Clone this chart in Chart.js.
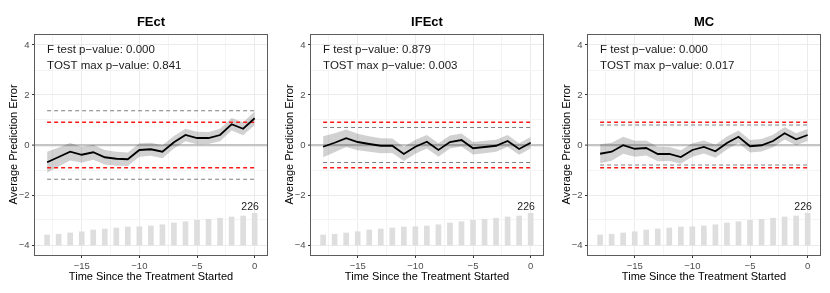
<!DOCTYPE html>
<html>
<head>
<meta charset="utf-8">
<script src="https://cdn.jsdelivr.net/npm/chart.js@4.4.1/dist/chart.umd.min.js"></script>
<style>
  body { margin: 0; background: #fff; }
  #wrap { position: relative; width: 830px; height: 293px; }
  canvas { position: absolute; top: 0; }
</style>
</head>
<body>
<div id="wrap">
  <canvas id="p1" width="277" height="293" style="left:0px"></canvas>
  <canvas id="p2" width="277" height="293" style="left:276px"></canvas>
  <canvas id="p3" width="277" height="293" style="left:553px"></canvas>
</div>
<script>
// time since treatment started
const periods = [-18, -17, -16, -15, -14, -13, -12, -11, -10, -9, -8, -7, -6, -5, -4, -3, -2, -1, 0];
const xTicks = [-17.5, -15, -12.5, -10, -7.5, -5, -2.5, 0];
const yTicks = [-4, -3, -2, -1, 0, 1, 2, 3, 4];

// bars for number of treated units (drawn on the error axis, base at -4)
const barBase = -4;
const barTop = [-3.6, -3.57, -3.52, -3.47, -3.4, -3.36, -3.32, -3.28, -3.27, -3.24,
                -3.19, -3.12, -3.07, -3.01, -2.97, -2.93, -2.88, -2.84, -2.73];
const nLast = '226';

const titles = ['FEct', 'IFEct', 'MC'];
const fTestP = ['0.000', '0.879', '0.000'];
const tostP = ['0.841', '0.003', '0.017'];
const eqBound = [0.91, 0.91, 0.91];   // red dashed
const minRange = [1.37, 0.70, 0.80];  // grey dashed

const fectEst = [-0.69, -0.48, -0.27, -0.39, -0.29, -0.49, -0.55, -0.57, -0.2, -0.17, -0.27, 0.11, 0.4, 0.28, 0.28, 0.4, 0.83, 0.65, 1.07];
const fectLo = [-1.11, -0.86, -0.62, -0.71, -0.59, -0.78, -0.83, -0.84, -0.47, -0.43, -0.53, -0.14, 0.15, 0.03, 0.04, 0.15, 0.58, 0.39, 0.80];
const fectHi = [-0.27, -0.10, 0.08, -0.07, 0.01, -0.20, -0.27, -0.30, 0.07, 0.09, -0.01, 0.36, 0.65, 0.53, 0.52, 0.65, 1.08, 0.91, 1.34];

const ifectEst = [-0.07, 0.09, 0.27, 0.12, 0.04, -0.03, -0.03, -0.36, -0.07, 0.13, -0.2, 0.12, 0.2, -0.13, -0.08, -0.03, 0.16, -0.16, 0.09];
const ifectLo = [-0.49, -0.29, -0.08, -0.21, -0.27, -0.33, -0.32, -0.64, -0.35, -0.14, -0.47, -0.14, -0.06, -0.38, -0.33, -0.27, -0.08, -0.39, -0.14];
const ifectHi = [0.35, 0.47, 0.62, 0.45, 0.35, 0.27, 0.26, -0.08, 0.21, 0.40, 0.07, 0.38, 0.46, 0.12, 0.17, 0.21, 0.40, 0.07, 0.32];

const mcEst = [-0.35, -0.27, -0.01, -0.15, -0.12, -0.36, -0.36, -0.48, -0.2, -0.08, -0.25, 0.08, 0.33, -0.05, -0.01, 0.16, 0.47, 0.23, 0.4];
const mcLo = [-0.73, -0.63, -0.35, -0.47, -0.42, -0.65, -0.64, -0.75, -0.47, -0.34, -0.51, -0.18, 0.08, -0.30, -0.26, -0.09, 0.22, -0.01, 0.16];
const mcHi = [0.03, 0.09, 0.33, 0.17, 0.18, -0.07, -0.08, -0.21, 0.07, 0.18, 0.01, 0.34, 0.58, 0.20, 0.24, 0.41, 0.72, 0.47, 0.64];

Chart.defaults.font.family = '"Liberation Sans", Arial, sans-serif';
Chart.defaults.animation = false;

function fmt(v) {
    return v < 0 ? '\u2212' + Math.abs(v) : String(v);
}

function toXY(vals) {
    return vals.map((v, i) => ({x: periods[i], y: v}));
}

function hline(b) {
    let a = periods[0];
    let z = periods[periods.length - 1];
    return [{x: a, y: b}, {x: z, y: b}, {x: z, y: null}, {x: a, y: -b}, {x: z, y: -b}];
}

// title, p-value text, count label and panel border
const panelText = {
    id: 'panelText',
    afterDraw(chart, args, opts) {
        const c = chart.ctx;
        const a = chart.chartArea;
        const sx = chart.scales.x;
        const sy = chart.scales.y;
        c.save();
        c.strokeStyle = '#5c5c5c';
        c.lineWidth = 1;
        c.strokeRect(a.left - 0.5, a.top + 0.5, a.right - a.left + 1, a.bottom - a.top);

        c.fillStyle = '#000';
        c.font = 'bold 13px "Liberation Sans", Arial, sans-serif';
        c.textAlign = 'center';
        c.textBaseline = 'middle';
        c.fillText(opts.title, (a.left + a.right) / 2, 22);

        c.fillStyle = '#1a1a1a';
        c.font = '11.5px "Liberation Sans", Arial, sans-serif';
        c.textAlign = 'left';
        c.fillText('F test p\u2212value: ' + opts.fp, sx.getPixelForValue(periods[0]), sy.getPixelForValue(3.8));
        c.fillText('TOST max p\u2212value: ' + opts.tp, sx.getPixelForValue(periods[0]), sy.getPixelForValue(3.18));

        c.textAlign = 'center';
        c.font = '10.5px "Liberation Sans", Arial, sans-serif';
        c.fillText(nLast, sx.getPixelForValue(-0.4), sy.getPixelForValue(-2.47));
        c.restore();
    }
};

function makePanel(id, k, est, lo, hi) {
    const ctx = document.getElementById(id).getContext('2d');
    return new Chart(ctx, {
        type: 'line',
        data: {
            datasets: [
                {
                    type: 'line',
                    data: toXY(est),
                    borderColor: '#000',
                    borderWidth: 1.8,
                    pointRadius: 0,
                    order: 0
                },
                {
                    type: 'line',
                    data: hline(eqBound[k]),
                    borderColor: '#ff1a1a',
                    borderWidth: 1.4,
                    borderDash: [4, 3],
                    pointRadius: 0,
                    spanGaps: false,
                    order: 1
                },
                {
                    type: 'line',
                    data: hline(minRange[k]),
                    borderColor: '#808080',
                    borderWidth: 1.1,
                    borderDash: [4, 3],
                    pointRadius: 0,
                    spanGaps: false,
                    order: 2
                },
                {
                    type: 'line',
                    data: toXY(hi),
                    borderWidth: 0,
                    pointRadius: 0,
                    fill: '+1',
                    backgroundColor: 'rgba(0,0,0,0.18)',
                    order: 3
                },
                {
                    type: 'line',
                    data: toXY(lo),
                    borderWidth: 0,
                    pointRadius: 0,
                    fill: false,
                    order: 4
                },
                {
                    type: 'bar',
                    data: barTop.map((v, i) => ({x: periods[i], y: [barBase, v]})),
                    backgroundColor: '#dedede',
                    barThickness: 5,
                    order: 5
                }
            ]
        },
        options: {
            responsive: false,
            layout: {padding: {top: 34, right: 10, bottom: 0, left: 0}},
            plugins: {
                legend: {display: false},
                tooltip: {enabled: false},
                panelText: {title: titles[k], fp: fTestP[k], tp: tostP[k]}
            },
            scales: {
                x: {
                    type: 'linear',
                    min: -19.05,
                    max: 1.07,
                    offset: false,
                    afterBuildTicks: s => { s.ticks = xTicks.map(v => ({value: v})); },
                    afterFit: s => { s.height = 38; },
                    ticks: {
                        autoSkip: false,
                        maxRotation: 0,
                        padding: 3,
                        color: '#4d4d4d',
                        font: {size: 9.5},
                        callback: v => (v % 5 === 0 ? fmt(v) : '')
                    },
                    grid: {
                        offset: false,
                        tickLength: 3,
                        color: c => (c.tick && c.tick.value % 5 === 0 ? '#ebebeb' : '#f4f4f4'),
                        tickColor: c => (c.tick && c.tick.value % 5 === 0 ? '#333' : 'rgba(0,0,0,0)')
                    },
                    border: {display: false},
                    title: {
                        display: true,
                        text: 'Time Since the Treatment Started',
                        color: '#000',
                        font: {size: 11},
                        padding: {top: 0, bottom: 9}
                    }
                },
                y: {
                    type: 'linear',
                    min: -4.4,
                    max: 4.44,
                    afterBuildTicks: s => { s.ticks = yTicks.map(v => ({value: v})); },
                    afterFit: s => { s.width = 35; },
                    ticks: {
                        autoSkip: false,
                        padding: 2.5,
                        color: '#4d4d4d',
                        font: {size: 9.5},
                        callback: v => (v % 2 === 0 ? fmt(v) : '')
                    },
                    grid: {
                        tickLength: 3,
                        color: c => {
                            if (!c.tick) return '#ebebeb';
                            if (c.tick.value === 0) return '#c4c4c4';
                            return c.tick.value % 2 === 0 ? '#ebebeb' : '#f4f4f4';
                        },
                        lineWidth: c => (c.tick && c.tick.value === 0 ? 2.2 : 1),
                        tickColor: c => (c.tick && c.tick.value % 2 === 0 ? '#333' : 'rgba(0,0,0,0)'),
                        tickWidth: 1
                    },
                    border: {display: false},
                    title: {
                        display: true,
                        text: 'Average Prediction Error',
                        color: '#000',
                        font: {size: 11},
                        padding: {top: 7, bottom: 0}
                    }
                }
            }
        },
        plugins: [panelText]
    });
}

makePanel('p1', 0, fectEst, fectLo, fectHi);
makePanel('p2', 1, ifectEst, ifectLo, ifectHi);
makePanel('p3', 2, mcEst, mcLo, mcHi);
</script>
</body>
</html>
